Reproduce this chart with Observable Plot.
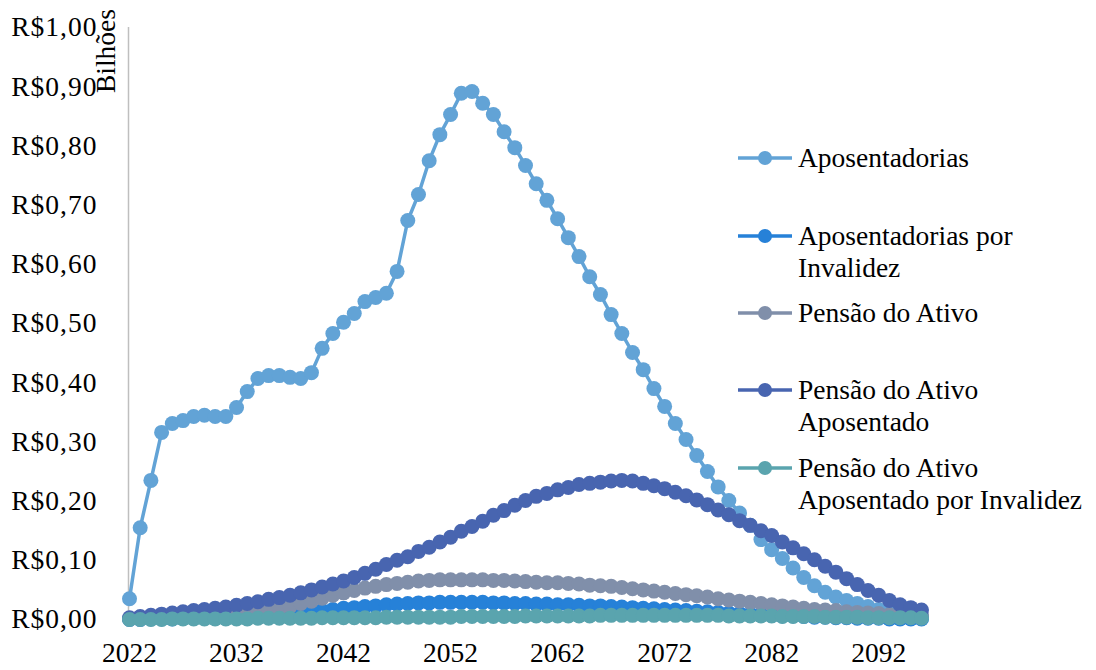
<!DOCTYPE html>
<html>
<head>
<meta charset="utf-8">
<script src="https://cdn.jsdelivr.net/npm/d3@7"></script>
<script src="https://cdn.jsdelivr.net/npm/@observablehq/plot@0.6"></script>
<style>
  html, body { margin: 0; padding: 0; background: #fff; }
  #wrap { position: relative; width: 1096px; height: 670px; overflow: hidden; font-family: "Liberation Serif", "Times New Roman", serif; color: #000; }
  #wrap svg { display: block; }
  #wrap svg text { font-family: "Liberation Serif", "Times New Roman", serif; }
  #wrap svg g[aria-label="y-axis tick label"] text { letter-spacing: 1px; }
  .ylab { position: absolute; left: 106px; top: 51px; transform: translate(-50%, -50%) rotate(-90deg); white-space: nowrap; font-size: 27.5px; line-height: 1; }
  .leg { position: absolute; left: 738px; display: flex; align-items: flex-start; font-size: 27.5px; line-height: 32px; white-space: nowrap; }
  .leg svg { flex: none; margin-top: 6px; margin-right: 4px; }
</style>
</head>
<body>
<div id="wrap"></div>
<script>
const years = d3.range(2022, 2097);
const seriesNames = [
  "Aposentadorias",
  "Aposentadorias por Invalidez",
  "Pensão do Ativo",
  "Pensão do Ativo Aposentado",
  "Pensão do Ativo Aposentado por Invalidez"
];
const seriesColors = ["#62A3D6", "#2681D8", "#808FAA", "#4865B0", "#5AA4AE"];

const aposentadorias = [
  0.035, 0.155, 0.235, 0.316, 0.331, 0.336, 0.343, 0.345, 0.343, 0.343,
  0.358, 0.385, 0.407, 0.412, 0.412, 0.409, 0.407, 0.417, 0.458, 0.483,
  0.502, 0.517, 0.537, 0.544, 0.551, 0.588, 0.674, 0.718, 0.775, 0.819,
  0.853, 0.889, 0.892, 0.872, 0.853, 0.824, 0.797, 0.767, 0.736, 0.708,
  0.677, 0.645, 0.613, 0.579, 0.549, 0.515, 0.483, 0.451, 0.422, 0.390,
  0.360, 0.331, 0.304, 0.277, 0.250, 0.224, 0.201, 0.180, 0.159, 0.135,
  0.118, 0.103, 0.087, 0.071, 0.057, 0.046, 0.038, 0.032, 0.027, 0.022,
  0.017, 0.013, 0.010, 0.007, 0.005
];
const invalidez = [
  0.000, 0.000, 0.001, 0.001, 0.001, 0.002, 0.002, 0.003, 0.003, 0.004,
  0.005, 0.006, 0.007, 0.008, 0.009, 0.011, 0.012, 0.014, 0.015, 0.017,
  0.019, 0.020, 0.022, 0.023, 0.025, 0.026, 0.027, 0.028, 0.028, 0.029,
  0.029, 0.029, 0.029, 0.029, 0.028, 0.028, 0.027, 0.027, 0.026, 0.026,
  0.025, 0.025, 0.024, 0.023, 0.023, 0.022, 0.021, 0.020, 0.019, 0.018,
  0.017, 0.016, 0.015, 0.014, 0.013, 0.012, 0.011, 0.010, 0.009, 0.008,
  0.007, 0.006, 0.006, 0.005, 0.004, 0.004, 0.003, 0.003, 0.002, 0.002,
  0.002, 0.001, 0.001, 0.001, 0.001
];
const pensaoAtivo = [
  0.001, 0.001, 0.002, 0.002, 0.003, 0.003, 0.004, 0.004, 0.005, 0.006,
  0.007, 0.009, 0.011, 0.014, 0.018, 0.022, 0.027, 0.031, 0.036, 0.041,
  0.045, 0.049, 0.053, 0.056, 0.059, 0.061, 0.063, 0.065, 0.066, 0.067,
  0.067, 0.067, 0.067, 0.067, 0.066, 0.066, 0.065, 0.064, 0.063, 0.062,
  0.062, 0.061, 0.060, 0.058, 0.057, 0.056, 0.054, 0.052, 0.050, 0.048,
  0.046, 0.044, 0.042, 0.040, 0.038, 0.035, 0.033, 0.031, 0.029, 0.027,
  0.025, 0.023, 0.021, 0.019, 0.017, 0.016, 0.015, 0.013, 0.012, 0.011,
  0.010, 0.008, 0.008, 0.007, 0.007
];
const pensaoAposentado = [
  0.003, 0.005, 0.007, 0.009, 0.011, 0.013, 0.015, 0.017, 0.019, 0.021,
  0.024, 0.027, 0.030, 0.034, 0.037, 0.041, 0.045, 0.050, 0.055, 0.060,
  0.065, 0.071, 0.078, 0.085, 0.093, 0.100, 0.106, 0.115, 0.122, 0.131,
  0.139, 0.149, 0.157, 0.166, 0.176, 0.184, 0.193, 0.201, 0.208, 0.213,
  0.219, 0.223, 0.228, 0.230, 0.232, 0.234, 0.235, 0.234, 0.230, 0.226,
  0.221, 0.215, 0.209, 0.202, 0.194, 0.185, 0.177, 0.167, 0.159, 0.150,
  0.142, 0.131, 0.121, 0.111, 0.101, 0.090, 0.080, 0.069, 0.059, 0.049,
  0.041, 0.032, 0.025, 0.020, 0.016
];
const pensaoAposInvalidez = [
  0.000, 0.000, 0.000, 0.000, 0.001, 0.001, 0.001, 0.001, 0.001, 0.001,
  0.001, 0.001, 0.002, 0.002, 0.002, 0.002, 0.002, 0.002, 0.003, 0.003,
  0.003, 0.003, 0.003, 0.003, 0.004, 0.004, 0.004, 0.004, 0.004, 0.004,
  0.004, 0.005, 0.005, 0.005, 0.005, 0.005, 0.005, 0.006, 0.006, 0.006,
  0.006, 0.006, 0.006, 0.006, 0.007, 0.007, 0.007, 0.007, 0.007, 0.007,
  0.007, 0.007, 0.007, 0.007, 0.007, 0.007, 0.006, 0.006, 0.006, 0.006,
  0.006, 0.005, 0.005, 0.005, 0.005, 0.004, 0.004, 0.004, 0.004, 0.003,
  0.003, 0.003, 0.003, 0.003, 0.002
];
const xTicks = [2022, 2032, 2042, 2052, 2062, 2072, 2082, 2092];
const yTicks = [0, 0.1, 0.2, 0.3, 0.4, 0.5, 0.6, 0.7, 0.8, 0.9, 1.0];
const yAxisLabel = "Bilhões";
const legendLines = [
  ["Aposentadorias"],
  ["Aposentadorias por", "Invalidez"],
  ["Pensão do Ativo"],
  ["Pensão do Ativo", "Aposentado"],
  ["Pensão do Ativo", "Aposentado por Invalidez"]
];

const allValues = [aposentadorias, invalidez, pensaoAtivo, pensaoAposentado, pensaoAposInvalidez];
const tables = allValues.map((vals, i) => years.map((yr, j) => ({year: yr, value: vals[j], series: seriesNames[i]})));

const marks = [
  Plot.ruleX([2022], {y1: 0, y2: 1, stroke: "#BFBFBF", strokeWidth: 1.5, dx: -1})
];
tables.forEach((t, i) => {
  marks.push(Plot.line(t, {x: "year", y: "value", stroke: seriesColors[i], strokeWidth: 3.5}));
  marks.push(Plot.dot(t, {x: "year", y: "value", r: 7.5, fill: seriesColors[i], stroke: "none"}));
});
marks.push(Plot.axisX({ticks: xTicks, tickFormat: d => String(d), tickSize: 0, tickPadding: 23, label: null, fontSize: 27.5}));
marks.push(Plot.axisY({ticks: yTicks, tickFormat: d => "R$" + d.toFixed(2).replace(".", ","), tickSize: 0, tickPadding: 32, label: null, fontSize: 27.5}));

const chart = Plot.plot({
  width: 1096,
  height: 670,
  marginLeft: 129,
  marginRight: 175,
  marginTop: 27,
  marginBottom: 51,
  x: {domain: [2022, 2096]},
  y: {domain: [0, 1]},
  style: {fontFamily: "'Liberation Serif', 'Times New Roman', serif", fontSize: "27.5px", color: "#000", background: "#fff", overflow: "visible"},
  marks
});

const wrap = document.getElementById("wrap");
wrap.appendChild(chart);

const yl = document.createElement("div");
yl.className = "ylab";
yl.textContent = yAxisLabel;
wrap.appendChild(yl);

const legendTops = [142, 220, 297, 374, 452];
legendLines.forEach((lines, i) => {
  const item = document.createElement("div");
  item.className = "leg";
  item.style.top = legendTops[i] + "px";
  const c = seriesColors[i];
  item.innerHTML = `<svg width="56" height="20" viewBox="0 0 56 20"><line x1="0" y1="10" x2="54" y2="10" stroke="${c}" stroke-width="3.5"/><circle cx="27" cy="10" r="7" fill="${c}"/></svg><div>${lines.join("<br>")}</div>`;
  wrap.appendChild(item);
});
</script>
</body>
</html>
